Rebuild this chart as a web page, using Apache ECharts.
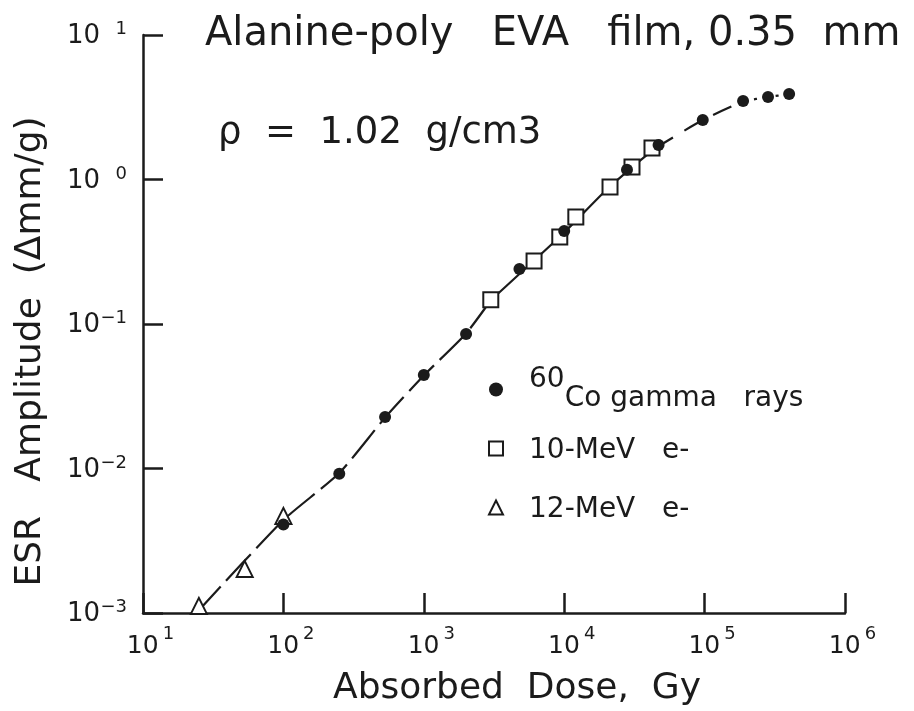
<!DOCTYPE html>
<html>
<head>
<meta charset="utf-8">
<title>Alanine-poly EVA film</title>
<script src="https://cdn.jsdelivr.net/npm/echarts@6/dist/echarts.min.js"></script>
<style>
  html, body { margin: 0; padding: 0; background: #fff; }
  #chart { width: 914px; height: 711px; }
</style>
</head>
<body>
<div id="chart"></div>
<script>
// Data (dose in Gy, amplitude in mm/g)
const gammaRays = [
  [100, 0.0041], [250, 0.0092], [530, 0.0227], [1000, 0.0444], [2000, 0.0853],
  [4800, 0.24], [10000, 0.44], [28000, 1.17], [47000, 1.73], [97000, 2.58],
  [188000, 3.49], [283000, 3.72], [400000, 3.91]
];
const mev10 = [
  [3000, 0.147], [6100, 0.273], [9300, 0.40], [12100, 0.55],
  [21200, 0.887], [30400, 1.22], [42200, 1.65]
];
const mev12 = [[25, 0.00112], [53, 0.00202], [100, 0.0047]];

// hand-drawn fit curve, split where the dash pattern changes
const fitLow = [[24, 0.00100], [100, 0.0044], [250, 0.0093], [530, 0.0225], [1000, 0.044], [2000, 0.086], [3000, 0.146]];
const fitMid = [[3000, 0.146], [6100, 0.275], [10000, 0.43], [20000, 0.85], [30000, 1.2], [45000, 1.66]];
const fitHigh = [[45000, 1.66], [97000, 2.58], [188000, 3.49]];
const fitTop = [[188000, 3.49], [283000, 3.72], [400000, 3.91]];

// tick labels (10 to the power of ...)
const xTickValues = [1e1, 1e2, 1e3, 1e4, 1e5, 1e6];
const xTickExps = ['1', '2', '3', '4', '5', '6'];
const yTickValues = [1e-3, 1e-2, 1e-1, 1e0, 1e1];
const yTickExps = ['\u22123', '\u22122', '\u22121', '0', '1'];

const seriesNames = ['60Co gamma   rays', '10-MeV   e-', '12-MeV   e-'];

const FONT = 'DejaVu Sans';
const INK = '#1b1b1b';

function expFor(values, exps, v) {
  const i = values.findIndex(t => Math.abs(Math.log10(t) - Math.log10(v)) < 0.01);
  return i < 0 ? '' : exps[i];
}

const chart = echarts.init(document.getElementById('chart'));

const fitLine = (data, type) => ({
  type: 'line',
  data: data,
  symbol: 'none',
  smooth: 0.2,
  silent: true,
  z: 2,
  lineStyle: { color: INK, width: 2.2, type: type }
});

const option = {
  backgroundColor: '#fff',
  animation: false,
  title: [
    {
      text: 'Alanine-poly   EVA   film, 0.35  mm',
      left: 200, top: 10,
      textStyle: { fontFamily: FONT, fontSize: 40, fontWeight: 'normal', color: INK }
    },
    {
      text: '\u03c1  =  1.02  g/cm3',
      left: 213, top: 110,
      textStyle: { fontFamily: FONT, fontSize: 37, fontWeight: 'normal', color: INK }
    }
  ],
  grid: { left: 143, right: 69, top: 35, bottom: 98, outerBoundsMode: 'none' },
  legend: {
    orient: 'vertical',
    left: 488, top: 366,
    padding: 0,
    itemWidth: 14, itemHeight: 14, itemGap: 12,
    selectedMode: false,
    data: seriesNames,
    formatter: function (name) {
      if (name.indexOf('60') === 0) return '{sp|}{sup|60}{b|' + name.slice(2) + '}';
      return '{sp|}{n|' + name + '}';
    },
    textStyle: {
      fontFamily: FONT, fontSize: 28, color: INK, lineHeight: 47,
      rich: {
        sp: { width: 21 },
        sup: { fontFamily: FONT, fontSize: 28, color: INK, lineHeight: 28, verticalAlign: 'top' },
        b: { fontFamily: FONT, fontSize: 28, color: INK, lineHeight: 47, verticalAlign: 'bottom' },
        n: { fontFamily: FONT, fontSize: 28, color: INK, lineHeight: 47, verticalAlign: 'bottom', padding: [0, 0, 7, 0] }
      }
    }
  },
  xAxis: {
    type: 'log',
    logBase: 10,
    min: 10,
    max: 1e6,
    name: 'Absorbed  Dose,  Gy',
    nameLocation: 'middle',
    nameGap: 58,
    nameTextStyle: { fontFamily: FONT, fontSize: 36, color: INK, padding: [0, 0, 0, 46] },
    axisLine: { lineStyle: { color: INK, width: 2.5 } },
    axisTick: { inside: true, length: 20, lineStyle: { color: INK, width: 2.5 } },
    minorTick: { show: false },
    splitLine: { show: false },
    axisLabel: {
      margin: 12,
      formatter: v => '{sp|}{b|10}{g|}{s|' + expFor(xTickValues, xTickExps, v) + '}',
      rich: {
        sp: { width: 15 },
        g: { width: 4 },
        b: { fontFamily: FONT, fontSize: 25, color: INK, lineHeight: 34, verticalAlign: 'bottom' },
        s: { fontFamily: FONT, fontSize: 18, color: INK, lineHeight: 18, verticalAlign: 'top' }
      }
    }
  },
  yAxis: {
    type: 'log',
    logBase: 10,
    min: 1e-3,
    max: 10,
    name: 'ESR   Amplitude  (\u0394mm/g)',
    nameLocation: 'middle',
    nameGap: 94,
    nameTextStyle: { fontFamily: FONT, fontSize: 36, color: INK, padding: [0, 55, 0, 0] },
    axisLine: { lineStyle: { color: INK, width: 2.5 } },
    axisTick: { inside: true, length: 20, lineStyle: { color: INK, width: 2.5 } },
    minorTick: { show: false },
    splitLine: { show: false },
    axisLabel: {
      margin: 16,
      formatter: v => '{b|10}{g|}{s|' + expFor(yTickValues, yTickExps, v) + '}',
      rich: {
        g: { width: 3 },
        b: { fontFamily: FONT, fontSize: 26, color: INK, lineHeight: 29, verticalAlign: 'bottom' },
        s: { fontFamily: FONT, fontSize: 18, color: INK, lineHeight: 18, verticalAlign: 'top', width: 24, align: 'right' }
      }
    }
  },
  series: [
    fitLine(fitLow, [36, 8]),
    fitLine(fitMid, 'solid'),
    fitLine(fitHigh, [20, 13]),
    fitLine(fitTop, [3, 8]),
    {
      name: seriesNames[1],
      type: 'scatter',
      data: mev10,
      symbol: 'rect',
      symbolSize: 15,
      z: 3,
      itemStyle: { color: '#fff', borderColor: INK, borderWidth: 2, opacity: 1 }
    },
    {
      name: seriesNames[2],
      type: 'scatter',
      data: mev12,
      symbol: 'triangle',
      symbolSize: 16,
      z: 3,
      itemStyle: { color: '#fff', borderColor: INK, borderWidth: 2, opacity: 1 }
    },
    {
      name: seriesNames[0],
      type: 'scatter',
      data: gammaRays,
      symbol: 'circle',
      symbolSize: 12,
      z: 4,
      itemStyle: { color: INK, opacity: 1 }
    }
  ]
};

chart.setOption(option);

window.addEventListener('resize', () => {
  chart.resize();
});
</script>
</body>
</html>
